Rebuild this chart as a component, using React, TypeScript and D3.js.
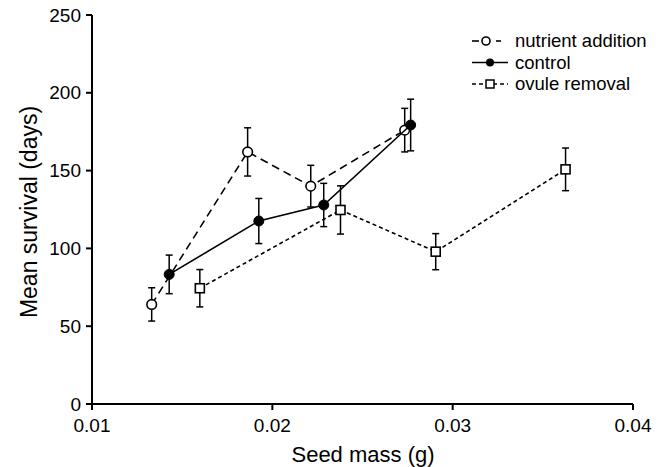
import React from "react";
import * as d3 from "d3";

const xTicks = [0.01, 0.02, 0.03, 0.04];
const yTicks = [0, 50, 100, 150, 200, 250];

const nutrientX = [0.01331, 0.01863, 0.02213, 0.02734];
const nutrientY = [64, 162, 140, 176];
const nutrientErr = [10.7, 15.5, 13.4, 14];

const controlX = [0.01428, 0.01925, 0.02285, 0.02767];
const controlY = [83.3, 117.6, 127.9, 179.3];
const controlErr = [12.4, 14.5, 13.9, 16.6];

const ovuleX = [0.01598, 0.02378, 0.02906, 0.03626];
const ovuleY = [74.4, 124.7, 97.9, 150.8];
const ovuleErr = [12, 15.5, 11.6, 13.7];

const seriesNames = ["nutrient addition", "control", "ovule removal"];

const W = 667;
const H = 467;
const FONT = "'Liberation Sans', Arial, Helvetica, sans-serif";

export default function App() {
  const x = d3.scaleLinear().domain([0.01, 0.04]).range([92, 633]);
  const y = d3.scaleLinear().domain([0, 250]).range([404, 15]);

  const series = [
    { name: seriesNames[0], xs: nutrientX, ys: nutrientY, es: nutrientErr, dash: "8,5", marker: "circleOpen" },
    { name: seriesNames[1], xs: controlX, ys: controlY, es: controlErr, dash: "none", marker: "circleFilled" },
    { name: seriesNames[2], xs: ovuleX, ys: ovuleY, es: ovuleErr, dash: "4,3", marker: "square" },
  ];

  const line = d3
    .line<[number, number]>()
    .x((d) => x(d[0]))
    .y((d) => y(d[1]));

  const marker = (kind: string, cx: number, cy: number, key: string) => {
    if (kind === "circleOpen")
      return <circle key={key} cx={cx} cy={cy} r={4.8} fill="#fff" stroke="#000" strokeWidth={1.6} />;
    if (kind === "circleFilled")
      return <circle key={key} cx={cx} cy={cy} r={5} fill="#000" stroke="#000" strokeWidth={1} />;
    return <rect key={key} x={cx - 4.5} y={cy - 4.5} width={9} height={9} fill="#fff" stroke="#000" strokeWidth={1.6} />;
  };

  const legendX0 = 472;
  const legendX1 = 508;
  const legendYs = [41, 62.5, 84];

  return (
    <svg
      width={W}
      height={H}
      style={{ position: "absolute", left: 0, top: 0, background: "#fff" }}
      fontFamily={FONT}
    >
      <rect x={0} y={0} width={W} height={H} fill="#fff" />
      {/* axes */}
      <line x1={x(0.01)} x2={x(0.01)} y1={y(250)} y2={y(0)} stroke="#000" strokeWidth={2} />
      <line x1={x(0.01)} x2={x(0.04)} y1={y(0)} y2={y(0)} stroke="#000" strokeWidth={2} />
      {yTicks.map((t) => (
        <g key={"yt" + t}>
          <line x1={x(0.01) - 6} x2={x(0.01)} y1={y(t)} y2={y(t)} stroke="#000" strokeWidth={2} />
          <text x={x(0.01) - 11} y={y(t)} dy="0.35em" textAnchor="end" fontSize={19}>
            {t}
          </text>
        </g>
      ))}
      {xTicks.map((t) => (
        <g key={"xt" + t}>
          <line x1={x(t)} x2={x(t)} y1={y(0)} y2={y(0) + 6} stroke="#000" strokeWidth={2} />
          <text x={x(t)} y={y(0) + 28} textAnchor="middle" fontSize={19}>
            {t}
          </text>
        </g>
      ))}
      <text x={363} y={462} textAnchor="middle" fontSize={22}>
        Seed mass (g)
      </text>
      <text transform="translate(37,212) rotate(-90)" textAnchor="middle" fontSize={23}>
        Mean survival (days)
      </text>

      {/* series */}
      {series.map((s, si) => {
        const pts: [number, number][] = s.xs.map((v, i) => [v, s.ys[i]]);
        return (
          <g key={"s" + si}>
            {pts.map((p, i) => {
              const px = x(p[0]);
              const top = y(p[1] + s.es[i]);
              const bot = y(p[1] - s.es[i]);
              return (
                <g key={"e" + i} stroke="#000" strokeWidth={1.5}>
                  <line x1={px} x2={px} y1={top} y2={bot} />
                  <line x1={px - 3.5} x2={px + 3.5} y1={top} y2={top} />
                  <line x1={px - 3.5} x2={px + 3.5} y1={bot} y2={bot} />
                </g>
              );
            })}
            <path d={line(pts) || ""} fill="none" stroke="#000" strokeWidth={1.6} strokeDasharray={s.dash} />
            {pts.map((p, i) => marker(s.marker, x(p[0]), y(p[1]), "m" + i))}
          </g>
        );
      })}

      {/* legend */}
      {series.map((s, i) => {
        const ly = legendYs[i];
        const mx = (legendX0 + legendX1) / 2;
        return (
          <g key={"lg" + i}>
            {s.marker === "circleOpen" ? (
              <>
                <line x1={legendX0} x2={legendX0 + 7} y1={ly} y2={ly} stroke="#000" strokeWidth={1.6} />
                <line x1={mx + 6} x2={mx + 11} y1={ly} y2={ly} stroke="#000" strokeWidth={1.6} />
              </>
            ) : (
              <line
                x1={legendX0}
                x2={legendX1}
                y1={ly}
                y2={ly}
                stroke="#000"
                strokeWidth={1.6}
                strokeDasharray={s.dash === "none" ? "none" : "4,3"}
              />
            )}
            {s.marker === "circleOpen" && <circle cx={mx - 4} cy={ly} r={4} fill="#fff" stroke="#000" strokeWidth={1.6} />}
            {s.marker === "circleFilled" && <circle cx={mx} cy={ly} r={4} fill="#000" />}
            {s.marker === "square" && (
              <rect x={mx - 4} y={ly - 4} width={8} height={8} fill="#fff" stroke="#000" strokeWidth={1.5} />
            )}
            <text x={515} y={ly} dy="0.35em" fontSize={18.5}>
              {s.name}
            </text>
          </g>
        );
      })}
    </svg>
  );
}
